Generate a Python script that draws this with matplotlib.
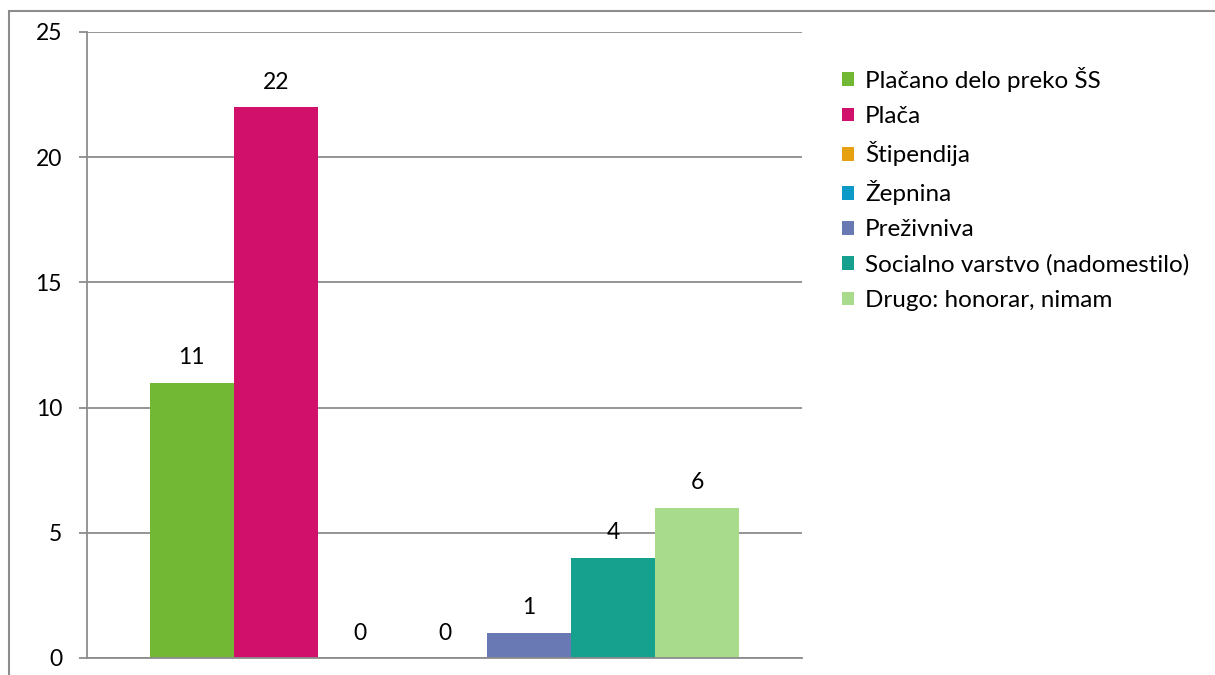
import matplotlib.pyplot as plt
from matplotlib.patches import Rectangle

plt.rcParams["font.family"] = ["Lato", "DejaVu Sans"]

# data
categories = [
    "Plačano delo preko ŠS",
    "Plača",
    "Štipendija",
    "Žepnina",
    "Preživniva",
    "Socialno varstvo (nadomestilo)",
    "Drugo: honorar, nimam",
]
values = [11, 22, 0, 0, 1, 4, 6]
colors = ["#72B835", "#D0106B", "#E5A10F", "#0E9AC6", "#6979B4", "#16A08E", "#A8DC8C"]
y_ticks = [0, 5, 10, 15, 20, 25]

fig = plt.figure(figsize=(12.15, 6.75), dpi=100)
ax = fig.add_axes([87 / 1215, 1 - 658 / 675, 715 / 1215, 626 / 675])

# outer chart frame (only left and top visible in the crop)
fig.patches.append(
    Rectangle((9 / 1215, -0.1), 1.2, 1.1 - 11 / 675, transform=fig.transFigure,
              fill=False, edgecolor="#8C8C8C", linewidth=1.5, zorder=0)
)

group_width = 0.825
w = group_width / len(values)
for i, (cat, val, col) in enumerate(zip(categories, values, colors)):
    x = -group_width / 2 + w * (i + 0.5)
    ax.bar(x, val, width=w, color=col, label=cat, zorder=2)
    ax.annotate(str(val), (x, val), xytext=(0, 18), textcoords="offset points",
                ha="center", va="center", fontsize=16.5, color="black")

ax.set_xlim(-0.5, 0.5)
ax.set_ylim(0, 25)
ax.set_yticks(y_ticks)
ax.set_xticks([])
ax.yaxis.grid(True, color="#8C8C8C", linewidth=1.3, zorder=0)
ax.set_axisbelow(True)
ax.tick_params(axis="y", length=6, width=1.3, color="#8C8C8C", labelsize=16.5, pad=12)

for s in ["top", "right"]:
    ax.spines[s].set_visible(False)
ax.spines["left"].set_color("#8C8C8C")
ax.spines["left"].set_linewidth(1.3)
ax.spines["bottom"].set_color("#8C8C8C")
ax.spines["bottom"].set_linewidth(1.3)

fig.legend(loc="upper left", bbox_to_anchor=(825 / 1215, 1 - 50 / 675), frameon=False,
           fontsize=17.5, handlelength=0.5, handleheight=0.5, handletextpad=0.45,
           labelspacing=0.58, borderpad=0.2)

plt.savefig("out.png", dpi=100)
